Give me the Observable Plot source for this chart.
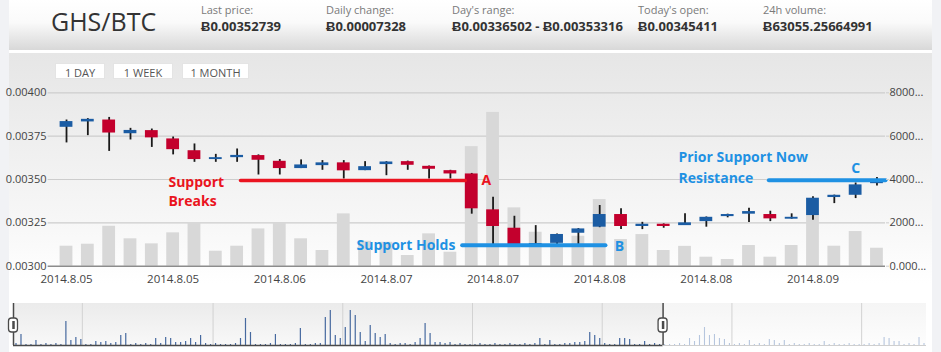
<!DOCTYPE html>
<html>
<head>
<meta charset="utf-8">
<script src="https://cdn.jsdelivr.net/npm/d3@7"></script>
<script src="https://cdn.jsdelivr.net/npm/@observablehq/plot@0.6"></script>
<style>
  html, body { margin: 0; padding: 0; }
  body { width: 941px; height: 352px; overflow: hidden; position: relative; background: #f1f2f5; font-family: "Open Sans", sans-serif; }
  .abs { position: absolute; }
  .lbl { font-size: 11px; line-height: 11px; color: #7a7a7a; white-space: nowrap; }
  .val { font-size: 13px; line-height: 13px; font-weight: 700; color: #333; white-space: nowrap; }
  .btn { background: #fff; font-size: 11px; color: #555; text-align: center; height: 16px; line-height: 17px; border: 1px solid #e4e4e4; box-sizing: border-box; }
</style>
</head>
<body>
<div class="abs" style="left:9px;top:0;width:923px;height:50px;background:linear-gradient(#ffffff 0%, #fafafa 45%, #d8d8d8 100%);"></div>
<div class="abs" style="left:9px;top:50px;width:923px;height:3px;background:#ffffff;"></div>
<div class="abs" style="left:9px;top:53px;width:923px;height:299px;background:linear-gradient(#e6e6e6 0px, #f7f7f7 170px, #ffffff 230px);"></div>

<div class="abs" style="left:51px;top:9px;font-size:25px;line-height:25px;color:#333;">GHS/BTC</div>
<div id="stats"></div>

<div class="abs btn" style="left:55px;top:63px;width:50px;">1 DAY</div>
<div class="abs btn" style="left:113px;top:63px;width:60px;">1 WEEK</div>
<div class="abs btn" style="left:182px;top:63px;width:67px;">1 MONTH</div>

<div class="abs" style="left:13px;top:303px;width:651px;height:42px;background:linear-gradient(#ebebeb, #f8f8f8);"></div>
<div class="abs" style="left:664px;top:303px;width:262px;height:42px;background:linear-gradient(#f5f5f5, #fdfdfd);"></div>

<div id="main" class="abs" style="left:0;top:55px;"></div>
<div id="nav" class="abs" style="left:0;top:300px;"></div>

<script>
// ---------- header stats ----------
const statLabels = ["Last price:", "Daily change:", "Day's range:", "Today's open:", "24h volume:"];
const statValues = ["0.00352739", "0.00007328", "0.00336502 - \u02430.00353316", "0.00345411", "63055.25664991"];
const statLeft = [201, 326, 452, 638, 763];
const stats = document.getElementById("stats");
statLabels.forEach((t, i) => {
  const l = document.createElement("div");
  l.className = "abs lbl"; l.style.left = statLeft[i] + "px"; l.style.top = "4px"; l.textContent = t;
  stats.appendChild(l);
  const v = document.createElement("div");
  v.className = "abs val"; v.style.left = statLeft[i] + "px"; v.style.top = "19.5px";
  v.textContent = "\u0243" + statValues[i];
  stats.appendChild(v);
});

// ---------- data ----------
const opens  = [0.003801,0.003832,0.003843,0.003764,0.003782,0.003734,0.003666,0.003615,0.003626,0.003638,
                0.003605,0.003563,0.003580,0.003596,0.003551,0.003586,0.003603,0.003576,0.003551,0.003532,
                0.003325,0.003219,0.003125,0.003132,0.003190,0.003225,0.003298,0.003229,0.003242,0.003234,
                0.003257,0.003286,0.003300,0.003298,0.003271,0.003292,0.003396,0.003409,0.003476];
const highs  = [0.003843,0.003851,0.003858,0.003795,0.003791,0.003745,0.003705,0.003645,0.003676,0.003642,
                0.003615,0.003613,0.003609,0.003609,0.003603,0.003603,0.003606,0.003578,0.003553,0.003535,
                0.003397,0.003288,0.003234,0.003186,0.003217,0.003350,0.003331,0.003253,0.003244,0.003302,
                0.003284,0.003300,0.003334,0.003317,0.003302,0.003401,0.003410,0.003480,0.003511];
const lows   = [0.003711,0.003753,0.003662,0.003728,0.003685,0.003642,0.003599,0.003599,0.003599,0.003526,
                0.003526,0.003563,0.003553,0.003503,0.003551,0.003522,0.003553,0.003503,0.003503,0.003300,
                0.003125,0.003125,0.003120,0.003125,0.003125,0.003222,0.003211,0.003211,0.003219,0.003234,
                0.003225,0.003279,0.003252,0.003257,0.003271,0.003265,0.003361,0.003390,0.003463];
const closes = [0.003834,0.003847,0.003768,0.003783,0.003740,0.003672,0.003615,0.003626,0.003639,0.003611,
                0.003563,0.003584,0.003596,0.003550,0.003574,0.003601,0.003582,0.003559,0.003532,0.003331,
                0.003229,0.003125,0.003130,0.003183,0.003215,0.003298,0.003229,0.003242,0.003229,0.003250,
                0.003282,0.003298,0.003315,0.003273,0.003282,0.003392,0.003409,0.003469,0.003491];
const volumes = [922,1014,1843,1263,1032,1539,2014,691,922,1720,
                 1975,1263,723,2414,1150,1100,493,1493,645,5516,
                 7096,2691,1567,1414,1382,3073,1230,1460,723,915,
                 415,309,954,415,954,2336,922,1599,829];

const priceTicks = [0.003, 0.00325, 0.0035, 0.00375, 0.004];
const volumeTickLabels = ["0.000...", "2000...", "4000...", "6000...", "8000..."];
const volumeMax = 8000;
const xTicks = [0, 5, 10, 15, 20, 25, 30, 35];
const xTickLabels = ["2014.8.05","2014.8.05","2014.8.06","2014.8.07","2014.8.07","2014.8.08","2014.8.08","2014.8.09"];

// annotations (in data units: candle index, price)
const redLine = [{x1: 8.16, x2: 18.7, y: 0.003494}];
const blueLines = [{x1: 18.55, x2: 25.27, y: 0.003121}, {x1: 32.93, x2: 38.4, y: 0.003495}];
const redTexts = [{x: 4.78, y: 0.003437, t: "Support\nBreaks", a: "start", lh: 1.4}, {x: 19.68, y: 0.003494, t: "A", a: "middle", lh: 1}];
const blueTexts = [{x: 13.6, y: 0.003122, t: "Support Holds", a: "start", lh: 1},
                   {x: 25.92, y: 0.003112, t: "B", a: "middle", lh: 1},
                   {x: 28.69, y: 0.003580, t: "Prior Support Now\nResistance", a: "start", lh: 1.5},
                   {x: 37.0, y: 0.003563, t: "C", a: "middle", lh: 1}];

// navigator volumes (overview)
const navVolumes = [2,11,1,1,5,1,2,1,2,1,24,5,8,6,1,1,4,3,4,2,
  3,10,12,1,2,1,2,1,7,2,8,7,3,3,4,7,3,10,2,1,
  2,1,1,1,2,7,27,13,1,1,1,2,11,1,1,1,2,17,1,1,
  2,2,28,35,10,7,18,35,30,13,4,20,12,8,11,2,1,2,2,1,
  3,7,22,12,3,3,2,3,1,2,1,1,1,2,1,1,2,1,1,2,
  1,1,2,1,2,7,1,5,1,1,2,2,3,3,4,13,10,7,2,1,
  1,7,7,6,1,1,4,1,2,1,1,1,1,2,1,7,4,10,18,10,
  11,7,6,2,1,2,1,5,1,2,1,6,5,2,5,1,2,1,1,2,
  1,1,4,1,2,1,1,2,1,1,1,2,1,2,8,7,4,4,1,2,
  1,8,2];
const navSelection = [0, 130.2];
const navGrid = [13.8, 40, 66, 92, 118, 144, 170];

// ---------- main chart ----------
const candles = opens.map((o, i) => ({i, o, h: highs[i], l: lows[i], c: closes[i], v: volumes[i]}));
const up = candles.filter(d => d.c >= d.o);
const down = candles.filter(d => d.c < d.o);
const BLUE = "#1b5ca3", RED = "#c3002d", ARED = "#ea1420", ABLUE = "#1f91e3";
const font = "Open Sans";

const main = Plot.plot({
  width: 941, height: 240,
  marginLeft: 53, marginRight: 56, marginTop: 37.3, marginBottom: 29.3,
  style: {fontFamily: font, fontSize: "11px", background: "transparent", overflow: "visible", color: "#444"},
  x: {type: "linear", domain: [-0.61, 38.4]},
  y: {domain: [0.003, 0.004]},
  marks: [
    Plot.ruleY(priceTicks.slice(1), {x1: -0.86, x2: 38.4, stroke: "#cdcdcd", strokeWidth: 1.2}),
    Plot.rect(candles, {x1: d => d.i - 0.3, x2: d => d.i + 0.3, y1: 0.003, y2: d => 0.003 + d.v / volumeMax * 0.001, fill: "#d8d8d8"}),
    Plot.ruleY([0.003], {x1: -0.86, x2: 38.4, stroke: "#8c8c8c", strokeWidth: 1.6}),
    Plot.ruleX(candles, {x: "i", y1: "l", y2: "h", stroke: "#1a1a1a", strokeWidth: 1.8}),
    Plot.rect(up, {x1: d => d.i - 0.3, x2: d => d.i + 0.3, y1: "o", y2: "c", fill: BLUE}),
    Plot.rect(down, {x1: d => d.i - 0.3, x2: d => d.i + 0.3, y1: "o", y2: "c", fill: RED}),
    Plot.link(redLine, {x1: "x1", x2: "x2", y1: "y", y2: "y", stroke: ARED, strokeWidth: 3.5, strokeLinecap: "round"}),
    Plot.link(blueLines, {x1: "x1", x2: "x2", y1: "y", y2: "y", stroke: ABLUE, strokeWidth: 4, strokeLinecap: "round"}),
    ...redTexts.map(d => Plot.text([d], {x: "x", y: "y", text: "t", textAnchor: d.a, lineAnchor: "middle", lineHeight: d.lh, fill: ARED, fontSize: 14, fontWeight: 700})),
    ...blueTexts.map(d => Plot.text([d], {x: "x", y: "y", text: "t", textAnchor: d.a, lineAnchor: "middle", lineHeight: d.lh, fill: ABLUE, fontSize: 14, fontWeight: 700})),
    Plot.axisY(priceTicks, {anchor: "left", tickSize: 0, tickPadding: 7, tickFormat: d3.format(".5f"), color: "#444", fontSize: 11}),
    Plot.axisY(priceTicks, {anchor: "right", tickSize: 3, tickPadding: 1, stroke: "#cdcdcd", fill: "#444", tickFormat: d => volumeTickLabels[priceTicks.indexOf(d)], fontSize: 11}),
    Plot.axisX(xTicks, {anchor: "bottom", tickSize: 0, tickPadding: 9, tickFormat: d => xTickLabels[xTicks.indexOf(d)], color: "#444", fontSize: 11.5})
  ]
});
document.getElementById("main").appendChild(main);

// ---------- navigator ----------
const navData = navVolumes.map((v, i) => ({i, v}));
const inSel = navData.filter(d => d.i + 0.5 <= navSelection[1]);
const outSel = navData.filter(d => d.i + 0.5 > navSelection[1]);
const nav = Plot.plot({
  width: 941, height: 52,
  marginLeft: 13, marginRight: 15, marginTop: 10, marginBottom: 7,
  style: {background: "transparent", overflow: "visible"},
  x: {type: "linear", domain: [0, navVolumes.length], axis: null},
  y: {domain: [0, 35], axis: null},
  marks: [
    Plot.ruleX(navGrid, {y1: 0, y2: 42, stroke: "#d2d2d2", strokeWidth: 1}),
    Plot.ruleX(inSel, {x: d => d.i + 0.5, y1: 0, y2: "v", stroke: "#46699f", strokeWidth: 1.2}),
    Plot.ruleX(outSel, {x: d => d.i + 0.5, y1: 0, y2: "v", stroke: "#b6c6de", strokeWidth: 1.1}),
    Plot.ruleY([0], {x1: navSelection[0], x2: navSelection[1], stroke: "#4a4a4a", strokeWidth: 1.5}),
    Plot.ruleY([0], {x1: navSelection[1], x2: navVolumes.length, stroke: "#cfcfcf", strokeWidth: 1.2}),
    Plot.ruleX(navSelection, {y1: 0, y2: 42, stroke: "#4a4a4a", strokeWidth: 1.5}),
    Plot.rect(navSelection, {x1: d => d, x2: d => d, insetLeft: -4.5, insetRight: -4.5, y1: 13, y2: 27, fill: "#ffffff", stroke: "#4a4a4a", strokeWidth: 1.3, rx: 3}),
    Plot.ruleX(navSelection, {y1: 16, y2: 24, stroke: "#4a4a4a", strokeWidth: 2.5})
  ]
});
document.getElementById("nav").appendChild(nav);
</script>
</body>
</html>
